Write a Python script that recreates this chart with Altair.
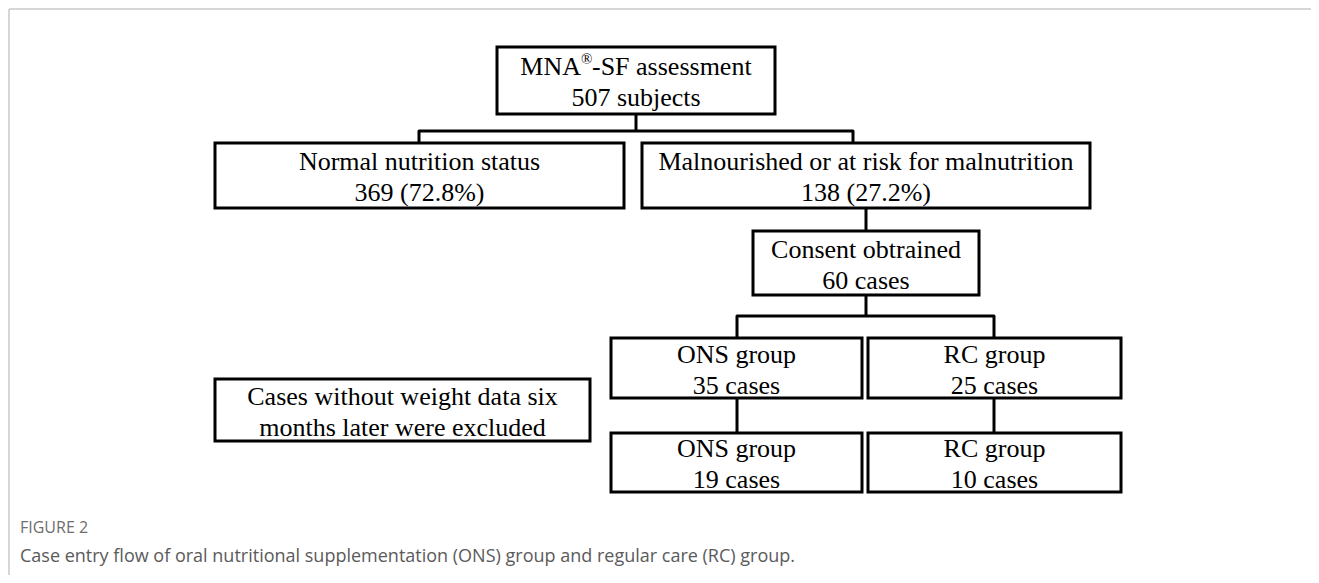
import altair as alt
import pandas as pd

# ---- boxes (flowchart nodes) ----
box_id = ["top", "normal", "mal", "consent", "ons1", "rc1", "excl", "ons2", "rc2"]
box_x1 = [497, 215, 642, 753, 611, 868, 215, 611, 868]
box_x2 = [775, 624, 1090, 979, 862, 1121, 590, 862, 1121]
box_y1 = [47, 143, 143, 231, 338, 338, 379, 433, 433]
box_y2 = [114, 208, 208, 295, 398, 398, 441, 492, 492]
box_line1 = [
    "",  # drawn in pieces below (MNA + superscript ® + -SF assessment)
    "Normal nutrition status",
    "Malnourished or at risk for malnutrition",
    "Consent obtrained",
    "ONS group",
    "RC group",
    "Cases without weight data six",
    "ONS group",
    "RC group",
]
box_line2 = [
    "507 subjects",
    "369 (72.8%)",
    "138 (27.2%)",
    "60 cases",
    "35 cases",
    "25 cases",
    "months later were excluded",
    "19 cases",
    "10 cases",
]
# pieces of the first title line
title_pieces = ["MNA", "®", "-SF assessment"]

# ---- connector paths ----
path_id = ["a", "a", "a", "a", "b", "b", "c", "c", "d", "d", "d", "d", "e", "e", "f", "f", "g", "g"]
path_x = [419, 419, 853, 853, 636, 636, 866, 866, 737, 737, 994, 994, 737, 737, 994, 994, 866, 866]
path_y = [143, 131, 131, 143, 114, 131, 208, 231, 338, 316, 316, 338, 398, 433, 398, 433, 295, 316]

# ---- caption ----
caption_label = "FIGURE 2"
caption_text = "Case entry flow of oral nutritional supplementation (ONS) group and regular care (RC) group."

FS = 26
LH = 31
boxes = pd.DataFrame({"id": box_id, "x1": box_x1, "x2": box_x2, "y1": box_y1, "y2": box_y2})
boxes["cx"] = (boxes["x1"] + boxes["x2"]) / 2
boxes["cy"] = (boxes["y1"] + boxes["y2"]) / 2

rows = []
for i in range(len(box_id)):
    cx, cy = boxes.loc[i, "cx"], boxes.loc[i, "cy"]
    if box_line1[i]:
        rows.append({"text": box_line1[i], "x": cx, "y": cy - LH / 2 + 2})
    rows.append({"text": box_line2[i], "x": cx, "y": cy + LH / 2 + 2})
lines_df = pd.DataFrame(rows)

top_cx, top_cy = boxes.loc[0, "cx"], boxes.loc[0, "cy"]
title_df = pd.DataFrame({
    "text": title_pieces,
    "x": [top_cx - 55, top_cx - 55, top_cx - 44],
    "y": [top_cy - LH / 2 + 2] * 3,
    "piece": ["a", "b", "c"],
})

paths = pd.DataFrame({"path": path_id, "x": path_x, "y": path_y})
paths["order"] = range(len(paths))

frame = pd.DataFrame({"x1": [9, 9], "x2": [1311, 9], "y1": [9, 9], "y2": [9, 575]})
caps = pd.DataFrame({"x": [20, 20], "y": [528, 557], "text": [caption_label, caption_text]})

X = alt.Scale(domain=[8, 1311], nice=False, zero=False)
Y = alt.Scale(domain=[8, 575], nice=False, zero=False, reverse=True)


def xq(f):
    return alt.X(f, type="quantitative", scale=X, axis=None)


def yq(f):
    return alt.Y(f, type="quantitative", scale=Y, axis=None)


frame_layer = alt.Chart(frame).mark_rule(color="#c8c8c8", strokeWidth=1.5).encode(
    x=xq("x1"), x2="x2", y=yq("y1"), y2="y2"
)

conn = alt.Chart(paths).mark_line(
    color="black", strokeWidth=3, strokeJoin="round", strokeCap="butt"
).encode(x=xq("x"), y=yq("y"), detail="path:N", order="order:Q")

rects = alt.Chart(boxes).mark_rect(fill="white", stroke="black", strokeWidth=3).encode(
    x=xq("x1"), x2="x2", y=yq("y1"), y2="y2"
)

serif = dict(font="Liberation Serif", color="black", baseline="middle")

texts = alt.Chart(lines_df).mark_text(fontSize=FS, align="center", **serif).encode(
    x=xq("x"), y=yq("y"), text="text:N"
)

t_a = alt.Chart(title_df[title_df.piece == "a"]).mark_text(fontSize=FS, align="right", **serif).encode(
    x=xq("x"), y=yq("y"), text="text:N")
t_b = alt.Chart(title_df[title_df.piece == "b"]).mark_text(fontSize=15, align="left", dy=-8, **serif).encode(
    x=xq("x"), y=yq("y"), text="text:N")
t_c = alt.Chart(title_df[title_df.piece == "c"]).mark_text(fontSize=FS, align="left", **serif).encode(
    x=xq("x"), y=yq("y"), text="text:N")

cap_label = alt.Chart(caps.iloc[[0]]).mark_text(
    font="Open Sans", fontSize=16, color="#6e6e6e", align="left", baseline="middle"
).encode(x=xq("x"), y=yq("y"), text="text:N")

cap_text = alt.Chart(caps.iloc[[1]]).mark_text(
    font="Open Sans", fontSize=18, color="#5a5a5a", align="left", baseline="middle"
).encode(x=xq("x"), y=yq("y"), text="text:N")

chart = alt.layer(frame_layer, conn, rects, texts, t_a, t_b, t_c, cap_label, cap_text).properties(
    width=1303, height=567, padding=0, autosize=alt.AutoSizeParams(type="none"),
    background="white",
).configure_view(stroke=None)

chart.save("out.html", embed_options={"renderer": "svg", "actions": False})
